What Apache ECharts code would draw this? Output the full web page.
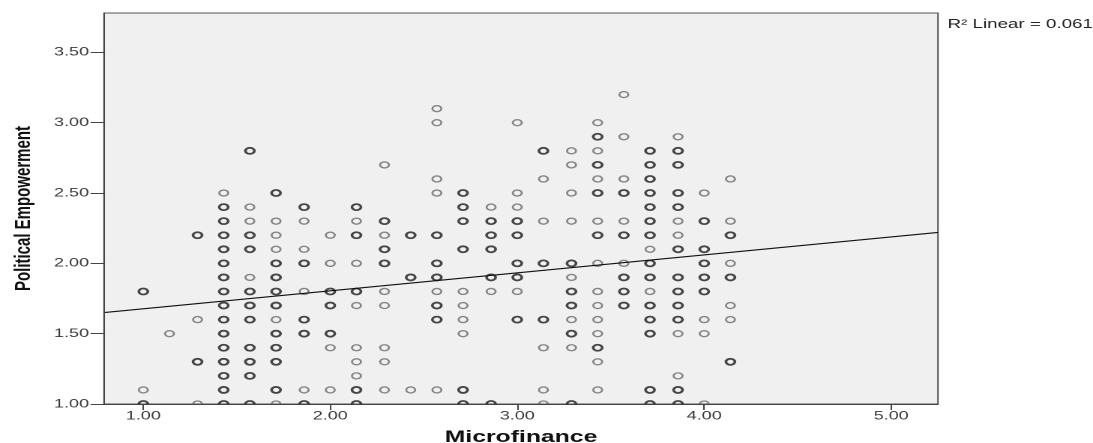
<!DOCTYPE html>
<html>
<head>
<meta charset="utf-8">
<script src="https://cdn.jsdelivr.net/npm/echarts@6/dist/echarts.min.js"></script>
<style>
  html, body { margin: 0; padding: 0; background: #fff; overflow: hidden; }
  /* the SPSS export is stretched sideways, so the chart is drawn narrow and widened */
  #chart { width: 729px; height: 443px; transform: scaleX(1.4993); transform-origin: 0 0; }
</style>
</head>
<body>
<div id="chart"></div>
<script>
// Microfinance score levels (columns of the scatter)
const xLevels = [1.00, 1.14, 1.29, 1.43, 1.57, 1.71, 1.86, 2.00, 2.14, 2.29, 2.43, 2.57,
  2.71, 2.86, 3.00, 3.14, 3.29, 3.43, 3.57, 3.71, 3.86, 4.00, 4.14];

// Political Empowerment values per column, cases drawn as bold rings
const darkY = [
  [1.0, 1.8],
  [],
  [1.3, 2.2],
  [1.0, 1.1, 1.2, 1.3, 1.4, 1.5, 1.6, 1.7, 1.8, 1.9, 2.0, 2.1, 2.2, 2.3, 2.4],
  [1.0, 1.2, 1.3, 1.4, 1.6, 1.7, 1.8, 2.1, 2.2, 2.8],
  [1.1, 1.3, 1.4, 1.5, 1.7, 1.8, 1.9, 2.0, 2.5],
  [1.0, 1.5, 1.6, 2.0, 2.4],
  [1.5, 1.7, 1.8],
  [1.0, 1.1, 1.8, 2.2, 2.4],
  [2.0, 2.1, 2.3],
  [1.9, 2.2],
  [1.6, 1.7, 1.9, 2.0, 2.2],
  [1.0, 1.1, 2.1, 2.3, 2.4, 2.5],
  [1.0, 1.9, 2.1, 2.2, 2.3],
  [1.6, 1.9, 2.0, 2.2, 2.3],
  [1.6, 2.0, 2.8],
  [1.0, 1.5, 1.7, 1.8, 2.0],
  [1.4, 2.2, 2.5, 2.7, 2.9],
  [1.7, 1.8, 1.9, 2.2, 2.5],
  [1.0, 1.1, 1.5, 1.6, 1.7, 1.9, 2.0, 2.2, 2.3, 2.4, 2.5, 2.6, 2.7, 2.8],
  [1.0, 1.1, 1.6, 1.7, 1.8, 1.9, 2.1, 2.4, 2.5, 2.7, 2.8],
  [1.8, 1.9, 2.0, 2.1, 2.3],
  [1.3, 1.9, 2.2]
];

// cases drawn as thin grey rings
const lightY = [
  [1.1],
  [1.5],
  [1.0, 1.6],
  [2.5],
  [1.9, 2.3, 2.4],
  [1.0, 1.6, 2.1, 2.2, 2.3],
  [1.1, 1.8, 2.1, 2.3],
  [1.1, 1.4, 2.0, 2.2],
  [1.2, 1.3, 1.4, 1.7, 2.0, 2.3],
  [1.1, 1.3, 1.4, 1.7, 1.8, 2.2, 2.7],
  [1.1],
  [1.1, 1.8, 2.5, 2.6, 3.0, 3.1],
  [1.5, 1.6, 1.7, 1.8],
  [1.8, 2.4],
  [1.8, 2.4, 2.5, 3.0],
  [1.0, 1.1, 1.4, 2.3, 2.6],
  [1.4, 1.6, 1.9, 2.3, 2.5, 2.7, 2.8],
  [1.1, 1.3, 1.5, 1.6, 1.7, 1.8, 2.0, 2.3, 2.6, 2.8, 3.0],
  [2.0, 2.3, 2.6, 2.9, 3.2],
  [1.8, 2.1],
  [1.2, 1.5, 2.2, 2.3, 2.9],
  [1.0, 1.5, 1.6, 2.5],
  [1.6, 1.7, 2.0, 2.3, 2.6]
];

// fit line read at the two plot edges
const fitX = [0.79, 5.25];
const fitY = [1.65, 2.22];

const xTicks = [1, 2, 3, 4, 5];
const yTicks = [1, 1.5, 2, 2.5, 3, 3.5];

function toPoints(cols) {
  const out = [];
  cols.forEach((ys, i) => ys.forEach(y => out.push([xLevels[i], y])));
  return out;
}

const chart = echarts.init(document.getElementById('chart'), null, { devicePixelRatio: 2 });
const font = 'Liberation Sans, Arial, sans-serif';

chart.setOption({
  animation: false,
  backgroundColor: '#fff',
  title: {
    text: 'R² Linear = 0.061',
    left: 627,
    top: 13,
    textStyle: { fontFamily: font, fontSize: 12.5, fontWeight: 'normal', color: '#222' }
  },
  // white strip under the plot so rings sitting on y = 1.00 show only their top half
  graphic: [{
    type: 'rect',
    z: 10,
    shape: { x: 69, y: 404.5, width: 557, height: 10 },
    style: { fill: '#fff' }
  }],
  grid: {
    left: 69.4, right: 103.4, top: 13, bottom: 39,
    outerBoundsMode: 'none',
    show: true, backgroundColor: '#f0f0f0', borderColor: '#555', borderWidth: 1
  },
  xAxis: {
    type: 'value',
    z: 20,
    min: 0.79, max: 5.25,
    name: 'Microfinance',
    nameLocation: 'middle',
    nameGap: 25,
    nameTextStyle: { fontFamily: font, fontSize: 16.5, fontWeight: 'bold', color: '#111' },
    axisLine: { onZero: false, lineStyle: { color: '#444', width: 1 } },
    axisTick: { customValues: xTicks, length: 6, lineStyle: { color: '#444' } },
    axisLabel: {
      customValues: xTicks, margin: 6,
      formatter: v => v.toFixed(2),
      fontFamily: font, fontSize: 12, color: '#3a3a3a'
    },
    splitLine: { show: false }
  },
  yAxis: {
    type: 'value',
    z: 20,
    min: 1, max: 3.78,
    name: 'Political Empowerment',
    nameLocation: 'middle',
    nameGap: 46,
    nameTextStyle: { fontFamily: font, fontSize: 15, fontWeight: 'bold', color: '#111' },
    axisLine: { show: true, onZero: false, lineStyle: { color: '#444', width: 1 } },
    axisTick: { show: true, customValues: yTicks, length: 9, lineStyle: { color: '#444' } },
    axisLabel: {
      customValues: yTicks, margin: 10,
      formatter: v => v.toFixed(2),
      fontFamily: font, fontSize: 12, color: '#3a3a3a'
    },
    splitLine: { show: false }
  },
  series: [
    {
      type: 'scatter',
      data: toPoints(lightY),
      symbol: 'circle',
      symbolSize: 6,
      clip: true,
      itemStyle: { color: 'rgba(0,0,0,0)', borderColor: '#6a6a6a', borderWidth: 1.35 }
    },
    {
      type: 'scatter',
      data: toPoints(darkY),
      symbol: 'circle',
      symbolSize: 6,
      clip: true,
      itemStyle: { color: 'rgba(0,0,0,0)', borderColor: '#1c1c1c', borderWidth: 1.8 }
    },
    {
      type: 'line',
      data: fitX.map((x, i) => [x, fitY[i]]),
      symbol: 'none',
      z: 5,
      lineStyle: { color: '#111', width: 1.2 }
    }
  ]
});
</script>
</body>
</html>
